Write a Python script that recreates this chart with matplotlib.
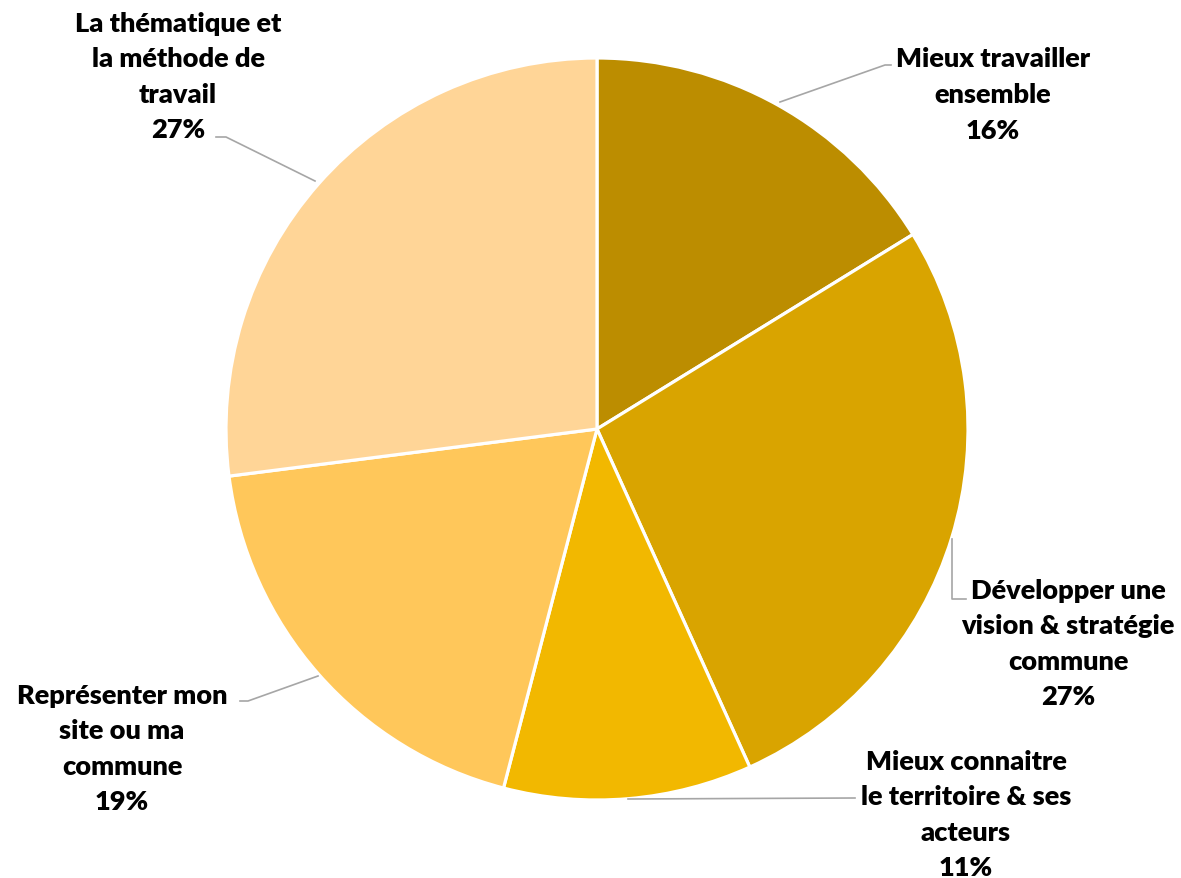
import matplotlib.pyplot as plt

labels = ["Mieux travailler\nensemble",
          "Développer une\nvision & stratégie\ncommune",
          "Mieux connaitre\nle territoire & ses\nacteurs",
          "Représenter mon\nsite ou ma\ncommune",
          "La thématique et\nla méthode de\ntravail"]
counts = [6, 10, 4, 7, 10]
percents = ["16%", "27%", "11%", "19%", "27%"]
colors = ["#BC8D00", "#D9A400", "#F2B800", "#FFC75A", "#FFD597"]

W, H = 1181, 879
fig = plt.figure(figsize=(W / 100, H / 100), dpi=100)
ax = fig.add_axes([0, 0, 1, 1])

cx, cy, r = 597, H - 430, 371
ax.pie(counts, colors=colors, startangle=90, counterclock=False,
       center=(cx, cy), radius=r,
       wedgeprops=dict(edgecolor="white", linewidth=2.3))
ax.set_xlim(0, W)
ax.set_ylim(0, H)
ax.set_aspect("equal")
ax.axis("off")

# label block centres (pixels from top-left) and leader lines
label_pos = [(993, 95), (1068, 644), (966, 815), (122, 749), (178, 77)]
leaders = [
    [(780, 103), (885, 66), (891, 66)],
    [(952, 540), (952, 600), (966, 600)],
    [(628, 800), (855, 799)],
    [(318, 677), (248, 702), (240, 702)],
    [(315, 182), (226, 138), (216, 138)],
]

for lab, pct, (x, y) in zip(labels, percents, label_pos):
    ax.text(x, H - y, lab + "\n" + pct, ha="center", va="center",
            multialignment="center", fontsize=19.5, fontweight="heavy",
            family="Lato", linespacing=1.58, color="black")

for pts in leaders:
    xs = [p[0] for p in pts]
    ys = [H - p[1] for p in pts]
    ax.plot(xs, ys, color="#A6A6A6", linewidth=1.2)

fig.savefig("out.png", dpi=100)
